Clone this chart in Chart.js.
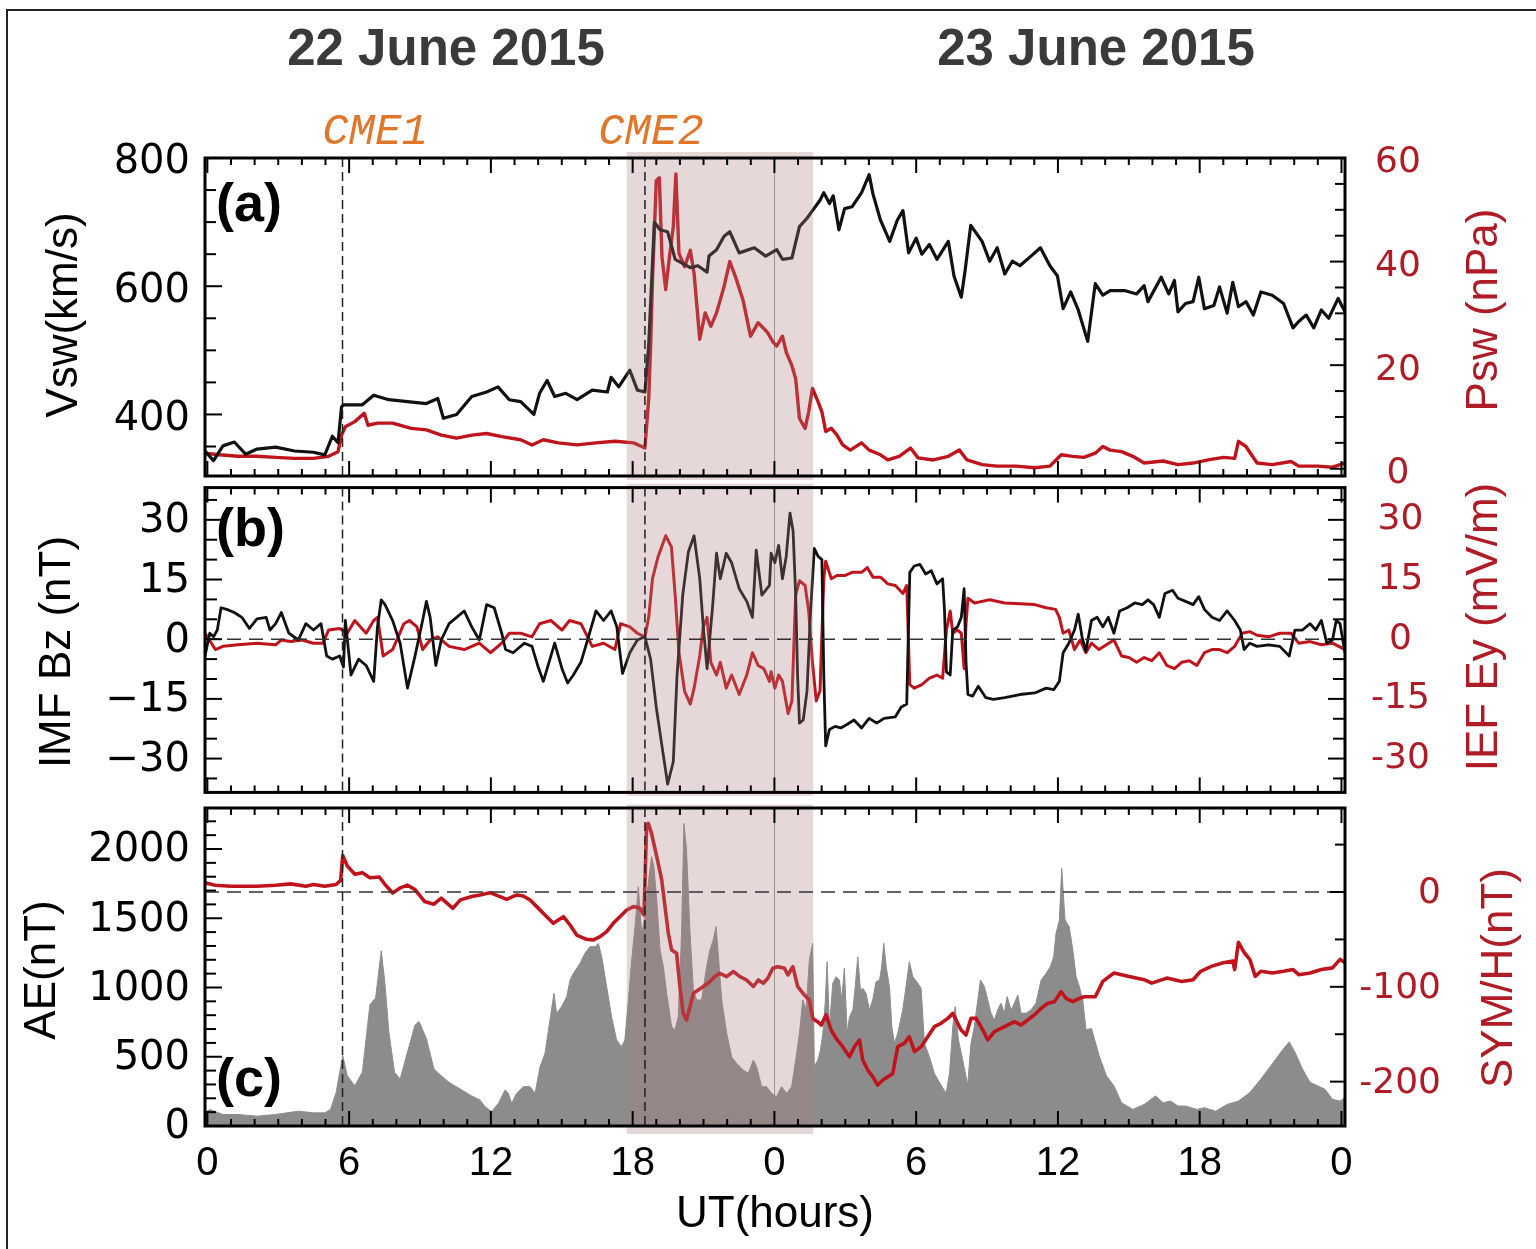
<!DOCTYPE html>
<html>
<head>
<meta charset="utf-8">
<script src="https://cdn.jsdelivr.net/npm/chart.js@4.4.1/dist/chart.umd.min.js"></script>
<style>
html, body { margin: 0; padding: 0; background: #fff; }
#wrap { position: relative; width: 1536px; height: 1249px; overflow: hidden; background: #fff; }
#wrap canvas { position: absolute; left: 0; }
#border { position: absolute; left: 6px; top: 9px; width: 1600px; height: 1300px; border-left: 2px solid #222; border-top: 2px solid #222; }
</style>
</head>
<body>
<div id="wrap">
  <div id="border"></div>
  <canvas id="pa" width="1536" height="530" style="top:0px"></canvas>
  <canvas id="pb" width="1536" height="400" style="top:440px"></canvas>
  <canvas id="pc" width="1536" height="484" style="top:765px"></canvas>
</div>
<script>
// hours since 22 June 00 UT, value
const vsw = [[-0.1,343],[0.26,328],[0.66,351],[1.14,357],[1.62,338],[2.1,346],[2.89,349],[3.69,343],[4.49,341],[4.97,337],[5.29,366],[5.53,356],[5.68,412],[5.76,415],[6.56,415],[7.04,430],[7.68,423],[8.47,420],[9.27,417],[9.75,425],[9.99,394],[10.55,400],[11.19,428],[11.82,435],[12.3,443],[12.78,423],[13.26,420],[13.82,400],[14.06,433],[14.38,453],[14.7,428],[15.17,433],[15.65,423],[16.29,438],[16.93,435],[17.09,458],[17.41,443],[17.88,469],[18.2,438],[18.52,435],[18.68,509],[18.84,637],[18.92,700],[19.16,688],[19.48,685],[19.8,642],[20.44,629],[20.76,632],[21.15,622],[21.23,647],[21.55,657],[21.87,678],[22.11,685],[22.51,652],[23.15,660],[23.63,647],[24.1,657],[24.34,642],[24.74,644],[25.06,693],[25.38,706],[25.61,718],[25.93,734],[26.09,746],[26.33,729],[26.49,741],[26.73,688],[26.97,721],[27.29,724],[27.69,746],[28.01,774],[28.17,744],[28.49,703],[28.88,670],[29.2,703],[29.44,718],[29.68,652],[30.0,675],[30.24,650],[30.56,665],[30.88,642],[31.36,670],[31.6,616],[31.91,583],[32.07,624],[32.31,695],[32.79,670],[33.11,639],[33.43,660],[33.75,619],[34.07,639],[34.39,632],[34.86,647],[35.26,660],[35.66,632],[35.98,616],[36.22,565],[36.54,591],[36.86,563],[37.26,514],[37.58,604],[37.9,586],[38.21,593],[38.85,593],[39.33,588],[39.65,601],[39.81,576],[40.37,614],[40.69,588],[40.93,609],[41.08,560],[41.4,573],[41.72,576],[41.96,614],[42.2,565],[42.6,570],[42.84,599],[43.16,558],[43.4,606],[43.64,568],[43.96,576],[44.27,555],[44.59,591],[45.07,586],[45.55,573],[45.95,535],[46.19,545],[46.51,555],[46.83,535],[47.15,563],[47.46,550],[47.86,581],[48.15,560]];
const psw = [[-0.1,3.0],[0.5,2.7],[1.3,2.4],[2.1,2.4],[2.89,2.2],[3.69,2.0],[4.49,2.0],[5.13,2.4],[5.53,3.3],[5.68,6.5],[5.84,8.1],[6.24,9.1],[6.64,10.7],[6.8,8.4],[7.2,8.8],[7.84,8.8],[8.63,7.8],[9.27,7.5],[9.9,6.5],[10.55,5.9],[11.19,6.5],[11.82,6.8],[12.46,6.2],[13.26,5.6],[13.74,4.6],[14.22,5.6],[14.85,5.0],[15.65,4.6],[16.45,5.0],[17.25,5.3],[18.04,5.0],[18.52,4.0],[18.68,13.5],[18.76,23.7],[18.84,36.5],[19.0,55.6],[19.13,56.2],[19.24,41],[19.4,34.6],[19.56,41],[19.72,46.7],[19.83,56.9],[19.96,41.6],[20.2,39],[20.44,42.2],[20.6,37.7],[20.84,25],[21.07,30.1],[21.31,27.5],[21.55,30.1],[21.87,35.2],[22.11,40],[22.35,37.1],[22.67,32.6],[22.99,25.6],[23.31,28.2],[23.71,26.3],[23.95,24.4],[24.1,23.7],[24.34,25.6],[24.5,22.5],[24.74,19.9],[24.9,17.4],[25.06,9.7],[25.3,7.8],[25.45,11],[25.61,15.5],[25.85,12.9],[26.01,11],[26.17,7.2],[26.41,7.8],[26.65,6.5],[26.89,4.6],[27.21,3.6],[27.69,5.0],[28.01,3.6],[28.49,2.7],[28.8,1.7],[29.28,2.4],[29.76,4.0],[30.08,2.1],[30.72,1.7],[31.36,2.4],[31.83,3.6],[32.15,1.7],[32.79,0.8],[33.43,0.5],[34.23,0.5],[35.02,0.2],[35.66,0.5],[36.14,2.7],[36.62,2.4],[37.1,2.2],[37.58,3.0],[37.9,4.3],[38.21,3.6],[38.69,3.3],[39.17,2.4],[39.65,1.1],[40.45,1.5],[41.08,0.8],[41.72,1.1],[42.36,1.7],[43.0,2.2],[43.48,2.0],[43.64,5.3],[43.96,4.3],[44.19,2.7],[44.43,1.1],[45.07,0.8],[45.87,1.4],[46.19,0.5],[46.99,0.5],[47.62,0.3],[48.15,1.1]];
const bz = [[-0.1,-4.2],[0.1,1.5],[0.26,0.6],[0.42,2.3],[0.58,7.9],[0.82,7.5],[1.14,6.7],[1.46,5.5],[1.78,2.7],[2.1,5.1],[2.49,5.5],[2.65,2.3],[2.89,3.9],[3.13,6.7],[3.45,1.5],[3.85,-0.2],[4.17,3.9],[4.49,2.3],[4.81,3.9],[5.05,-4.2],[5.29,-5.0],[5.6,-4.2],[5.76,-7.0],[5.84,4.7],[6.08,-9.0],[6.4,-5.0],[6.72,-6.6],[7.04,-10.6],[7.2,3.1],[7.36,9.9],[7.52,8.7],[7.84,4.7],[8.16,-1.0],[8.47,-12.3],[8.79,-4.2],[9.11,4.7],[9.27,9.5],[9.43,5.5],[9.67,-6.6],[9.9,-0.2],[10.23,3.9],[10.55,5.5],[10.87,7.1],[11.19,3.1],[11.51,-0.2],[11.82,8.7],[12.14,7.9],[12.46,1.5],[12.62,-2.6],[12.94,-3.4],[13.42,-1.0],[13.74,-1.8],[13.98,-6.6],[14.22,-10.6],[14.46,-5.8],[14.7,-1.0],[15.01,-7.4],[15.25,-11.0],[15.49,-9.0],[15.81,-5.8],[16.13,0.6],[16.45,7.1],[16.77,4.7],[17.09,7.1],[17.33,3.1],[17.57,-8.6],[17.88,-3.4],[18.2,-0.2],[18.52,0.6],[18.76,-5.0],[19.0,-17.1],[19.24,-26.8],[19.48,-36.4],[19.72,-30.8],[19.88,-9.0],[20.12,11.1],[20.36,22.0],[20.6,26.0],[20.84,15.2],[20.99,3.1],[21.15,-7.4],[21.39,8.7],[21.55,21.6],[21.71,15.2],[21.96,21.6],[22.19,19.2],[22.51,12.7],[22.83,9.5],[23.07,5.5],[23.23,22.4],[23.47,11.1],[23.79,13.5],[23.86,21.6],[24.02,19.2],[24.18,23.6],[24.34,15.2],[24.5,20.8],[24.66,31.7],[24.79,27.2],[24.9,11.1],[24.98,-9],[25.06,-21.1],[25.22,-20.3],[25.38,-13],[25.53,7.1],[25.69,22.8],[25.85,20.8],[26.01,20],[26.09,-9],[26.17,-26.8],[26.33,-22.7],[26.57,-21.9],[26.81,-22.3],[27.05,-21.5],[27.37,-20.3],[27.69,-22.3],[28.01,-19.9],[28.33,-21.1],[28.64,-19.9],[29.12,-19.5],[29.36,-17.1],[29.6,-16.3],[29.73,16.8],[29.92,18.4],[30.16,18.8],[30.4,16.4],[30.64,17.2],[30.88,13.9],[31.12,15.2],[31.2,7.1],[31.28,-8.2],[31.44,-9],[31.55,2.3],[31.75,3.1],[31.91,5.5],[32.03,12.7],[32.11,-5.8],[32.19,-13.9],[32.39,-14.3],[32.63,-11.8],[32.95,-14.7],[33.27,-15.1],[33.75,-14.7],[34.39,-13.9],[35.02,-13.5],[35.5,-12.3],[35.82,-12.7],[36.06,-10.6],[36.22,-3.4],[36.46,-1.0],[36.7,2.3],[36.86,6.3],[37.02,0.6],[37.18,-3.0],[37.42,4.7],[37.66,5.5],[37.9,3.1],[38.13,5.5],[38.37,1.5],[38.61,7.1],[38.93,7.9],[39.25,9.1],[39.57,8.7],[39.81,9.9],[40.05,8.7],[40.29,5.5],[40.53,11.5],[40.85,12.3],[41.08,10.3],[41.4,9.5],[41.72,8.7],[41.96,10.7],[42.2,7.5],[42.52,5.5],[42.84,4.7],[43.16,7.1],[43.48,4.7],[43.72,2.3],[43.88,-2.6],[44.12,-1.0],[44.43,-1.8],[44.91,-1.4],[45.39,-1.8],[45.79,-4.2],[46.03,2.3],[46.35,2.3],[46.67,3.9],[46.91,2.3],[47.15,4.7],[47.38,-1.0],[47.62,-0.2],[47.78,4.7],[47.94,3.9],[48.15,-3.4]];
const ey = [[-0.1,1.5],[0.34,-2.6],[0.66,-1.8],[1.3,-1.4],[2.1,-1.0],[2.89,-1.4],[3.13,-0.2],[3.53,-0.6],[4.01,-0.2],[4.49,-1.0],[4.89,-1.0],[5.13,2.3],[5.6,2.7],[5.92,1.5],[6.24,4.7],[6.72,1.5],[7.04,4.7],[7.2,5.5],[7.44,-4.2],[7.84,-2.6],[8.32,3.9],[8.55,4.7],[8.87,3.1],[9.11,-2.6],[9.43,-0.2],[9.75,0.6],[10.23,-1.8],[10.87,-2.6],[11.51,-1.0],[11.98,-3.4],[12.46,-1.0],[12.78,1.5],[13.26,1.5],[13.74,0.6],[14.06,3.9],[14.54,4.7],[15.01,2.3],[15.33,4.7],[15.81,3.9],[16.29,-1.8],[16.77,-1.0],[17.25,-2.6],[17.49,3.9],[17.88,3.1],[18.2,1.5],[18.52,0.6],[18.68,5.5],[18.84,15.2],[19.08,20.8],[19.4,26.0],[19.64,23.2],[19.8,11.1],[19.96,-3.4],[20.2,-13.1],[20.44,-16.3],[20.6,-12.3],[20.84,-4.2],[20.99,3.1],[21.15,5.5],[21.31,-5.8],[21.55,-9],[21.71,-5.8],[21.96,-12.3],[22.19,-9],[22.51,-13.9],[22.83,-9],[23.07,-3.4],[23.31,-6.6],[23.55,-7.4],[23.79,-10.6],[23.86,-8.2],[24.02,-12.3],[24.18,-9],[24.34,-10.6],[24.58,-18.7],[24.74,-15.5],[24.9,11.1],[25.06,14.7],[25.3,13.5],[25.45,7.1],[25.61,-5.8],[25.77,-15.5],[25.93,-13],[26.09,15.2],[26.17,19.6],[26.41,15.2],[26.65,16],[26.97,16],[27.29,16.8],[27.69,16.8],[27.93,18],[28.17,15.6],[28.49,15.6],[28.8,13.9],[29.12,13.5],[29.44,11.5],[29.6,13.5],[29.73,-11.4],[29.92,-12.3],[30.24,-11.4],[30.56,-9.8],[30.88,-9],[31.12,-9.8],[31.28,2.3],[31.44,7.1],[31.55,1.5],[31.75,2.3],[31.91,1.5],[32.03,-7.4],[32.11,3.9],[32.19,10.3],[32.47,9.1],[32.79,9.5],[33.11,9.9],[33.75,9.1],[34.39,8.9],[35.02,8.7],[35.5,7.9],[35.9,7.5],[36.06,5.5],[36.22,1.5],[36.46,2.3],[36.7,-2.6],[36.94,-0.2],[37.18,-3.4],[37.42,-1.0],[37.74,-2.6],[38.05,-1.4],[38.37,-0.2],[38.69,-4.2],[39.01,-4.6],[39.33,-5.8],[39.65,-4.6],[39.97,-5.4],[40.29,-3.4],[40.61,-6.6],[40.93,-7.4],[41.24,-5.8],[41.56,-5.4],[41.88,-6.6],[42.2,-3.4],[42.52,-2.6],[42.84,-2.6],[43.16,-3.4],[43.48,-1.8],[43.8,1.5],[44.12,1.9],[44.43,1.0],[44.91,0.6],[45.39,1.5],[45.87,1.5],[46.19,-1.0],[46.67,-0.6],[47.15,-1.4],[47.62,-1.0],[48.15,-2.6]];
const ae = [[-0.1,95],[0.1,120],[0.66,83],[1.3,83],[2.1,71],[2.89,83],[3.37,95],[3.85,107],[4.49,95],[4.97,95],[5.21,120],[5.45,241],[5.73,510],[5.92,363],[6.24,290],[6.56,388],[6.88,876],[7.12,924],[7.36,1266],[7.52,1022],[7.68,680],[7.92,388],[8.16,339],[8.47,534],[8.79,729],[8.96,754],[9.27,632],[9.59,412],[9.9,363],[10.23,315],[10.71,266],[11.19,217],[11.54,188],[11.75,140],[12.03,104],[12.32,164],[12.6,260],[12.74,236],[12.88,164],[13.09,236],[13.37,284],[13.66,284],[13.87,236],[14.08,428],[14.29,524],[14.5,765],[14.67,958],[14.78,813],[14.99,861],[15.21,934],[15.35,1054],[15.49,1102],[15.77,1174],[15.98,1247],[16.19,1295],[16.41,1295],[16.55,1319],[16.69,1223],[16.9,1006],[17.11,789],[17.32,621],[17.53,573],[17.67,621],[17.82,910],[17.96,1199],[18.1,1439],[18.24,1728],[18.38,1391],[18.52,1511],[18.66,1752],[18.8,1945],[18.9,1872],[19.02,1632],[19.16,1271],[19.3,1150],[19.44,958],[19.65,717],[19.79,693],[19.93,789],[20.07,1391],[20.17,2185],[20.28,1993],[20.43,1391],[20.57,982],[20.71,910],[20.92,910],[21.13,1150],[21.27,1271],[21.41,1343],[21.53,1439],[21.62,1247],[21.77,910],[21.98,669],[22.19,500],[22.4,452],[22.68,404],[22.89,380],[23.11,476],[23.25,428],[23.46,284],[23.67,284],[23.88,236],[24.09,212],[24.3,284],[24.52,236],[24.73,284],[24.92,500],[25.06,670],[25.2,910],[25.34,840],[25.48,1200],[25.62,1319],[25.69,430],[25.84,477],[25.95,549],[26.05,670],[26.15,887],[26.23,1186],[26.33,717],[26.47,1030],[26.61,1078],[26.75,1054],[26.85,910],[26.96,1138],[27.08,670],[27.18,790],[27.32,838],[27.42,1006],[27.53,1222],[27.64,982],[27.74,994],[27.88,958],[28.02,838],[28.16,910],[28.3,1042],[28.45,1054],[28.54,1150],[28.63,1319],[28.73,1150],[28.87,1006],[28.97,717],[29.08,597],[29.22,670],[29.43,838],[29.57,1006],[29.71,1186],[29.86,1078],[30.07,1030],[30.21,994],[30.35,597],[30.56,500],[30.77,380],[31.05,296],[31.27,236],[31.41,380],[31.55,717],[31.65,862],[31.79,621],[31.97,477],[32.18,296],[32.32,597],[32.46,717],[32.61,910],[32.72,1054],[32.89,1006],[33.03,910],[33.17,814],[33.31,766],[33.45,838],[33.59,887],[33.73,814],[33.85,934],[34.02,838],[34.16,887],[34.3,946],[34.44,814],[34.65,814],[34.86,838],[35.07,887],[35.29,1054],[35.5,1102],[35.68,1150],[35.82,1222],[35.92,1391],[36.06,1487],[36.16,1860],[36.3,1487],[36.48,1439],[36.63,1270],[36.77,1078],[36.91,1006],[37.05,910],[37.19,694],[37.42,705],[37.74,510],[38.05,363],[38.37,290],[38.69,168],[39.17,120],[39.65,156],[40.13,217],[40.45,168],[40.77,180],[41.08,144],[41.4,144],[41.88,120],[42.2,132],[42.68,107],[43.16,156],[43.64,180],[44.12,241],[44.59,339],[44.91,412],[45.23,485],[45.55,559],[45.79,607],[46.03,534],[46.35,412],[46.67,315],[46.99,290],[47.3,266],[47.62,193],[47.94,180],[48.15,205]];
const symh = [[-0.1,9.7],[0.34,7.2],[0.98,6.1],[2.1,6.1],[2.89,7.2],[3.53,8.6],[4.17,6.1],[4.49,7.9],[4.97,6.1],[5.45,7.9],[5.64,12.2],[5.73,38.4],[5.92,27.6],[6.24,18.7],[6.56,20.4],[6.88,15.1],[7.28,15.8],[7.52,7.9],[7.84,-1.1],[8.16,4.3],[8.47,7.2],[8.79,2.5],[9.19,-10],[9.59,-12.9],[9.9,-6.5],[10.39,-17.2],[10.71,-8.3],[11.19,-4.7],[11.54,-3.1],[11.96,-0.7],[12.39,-4.9],[12.67,-7.7],[13.09,-3.1],[13.37,-4.2],[13.66,-8.4],[13.94,-15.4],[14.29,-24.2],[14.64,-33],[15.07,-26],[15.35,-34.8],[15.63,-45.4],[16.05,-49.9],[16.34,-50.6],[16.62,-47.1],[16.9,-41.8],[17.18,-33],[17.46,-26],[17.75,-19],[18.03,-15.4],[18.31,-17.2],[18.48,-24.2],[18.54,26.7],[18.59,70.7],[18.66,72.4],[18.8,61.9],[19.02,37.3],[19.23,12.7],[19.37,-15.4],[19.51,-43.5],[19.65,-61.1],[19.86,-64.6],[20.0,-99.7],[20.14,-127.9],[20.28,-135],[20.43,-120.9],[20.57,-106.8],[20.78,-103.3],[20.99,-99.7],[21.27,-94.5],[21.48,-89.2],[21.69,-85.7],[21.98,-89.2],[22.26,-83.9],[22.54,-89.2],[22.82,-92.8],[23.11,-99.7],[23.32,-92.8],[23.53,-96.3],[23.72,-91],[23.93,-80.5],[24.14,-78.8],[24.43,-80.5],[24.57,-87.5],[24.78,-78.8],[24.99,-99.9],[25.27,-108.7],[25.48,-114],[25.62,-133.3],[25.84,-137],[25.98,-140.3],[26.19,-129.7],[26.4,-145.6],[26.61,-154.3],[26.89,-163.1],[27.18,-173.7],[27.39,-163.1],[27.6,-156.1],[27.74,-177.2],[27.95,-187.8],[28.16,-194.8],[28.37,-203.6],[28.59,-198.3],[28.8,-194.8],[29.01,-191.3],[29.22,-163.1],[29.5,-159.6],[29.71,-152.6],[29.93,-168.4],[30.21,-163.1],[30.49,-152.6],[30.77,-142],[31.05,-138.5],[31.34,-133.3],[31.55,-128],[31.69,-135],[31.9,-145.6],[32.11,-150.8],[32.32,-133.3],[32.54,-133.3],[32.82,-145.6],[33.03,-156.1],[33.31,-147.3],[33.59,-143.8],[33.87,-140.3],[34.16,-136.8],[34.44,-140.3],[34.72,-135],[35.0,-129.7],[35.29,-122.7],[35.57,-117.4],[35.85,-115.7],[36.13,-105.1],[36.34,-112.1],[36.63,-115.7],[36.91,-112.1],[37.12,-110.4],[37.58,-110.5],[37.9,-94.3],[38.37,-85.4],[39.01,-89],[39.65,-92.5],[39.97,-96.1],[40.61,-90.8],[41.24,-94.3],[41.72,-92.5],[42.04,-83.6],[42.52,-78.2],[43.0,-74.6],[43.4,-72.8],[43.48,-81.8],[43.64,-53.1],[43.88,-63.8],[44.12,-71],[44.35,-89],[44.59,-83.6],[45.07,-85.4],[45.55,-83.6],[45.95,-81.8],[46.19,-87.2],[46.67,-85.4],[47.15,-81.8],[47.62,-80],[47.94,-71],[48.15,-74.6]];

// ticks and labels
const xTicks = [0, 6, 12, 18, 24, 30, 36, 42, 48];
const xTickLabels = ['0', '6', '12', '18', '0', '6', '12', '18', '0'];
const vswTicks = [400, 600, 800];
const pswTicks = [0, 20, 40, 60];
const bzTicks = [-30, -15, 0, 15, 30];
const eyTicks = [-30, -15, 0, 15, 30];
const aeTicks = [0, 500, 1000, 1500, 2000];
const symTicks = [-200, -100, 0];

// events
const cmeHours = [5.72, 18.52];
const cmeNames = ['CME1', 'CME2'];
const shadeStart = 17.75;
const shadeEnd = 25.64;
const midnight = 24;

const RED = '#c0141c';
const RED_TXT = '#b01c26';
const SANS = '"Liberation Sans", Arial, sans-serif';

const toXY = arr => arr.map(p => ({x: p[0], y: p[1]}));

function line(ctx, x0, y0, x1, y1) {
  ctx.beginPath(); ctx.moveTo(x0, y0); ctx.lineTo(x1, y1); ctx.stroke();
}

// frame, inward ticks, shading, marker lines, texts
const decor = {
  id: 'decor',
  beforeDatasetsDraw(chart) {
    const {ctx, chartArea: a, scales: {x}} = chart;
    ctx.save();
    ctx.strokeStyle = '#9a9a9a';
    ctx.lineWidth = 1;
    const px = Math.round(x.getPixelForValue(midnight)) + 0.5;
    line(ctx, px, a.top, px, a.bottom);
    ctx.restore();
  },
  afterDatasetsDraw(chart, args, o) {
    const {ctx, chartArea: a, scales} = chart;
    const x = scales.x;
    ctx.save();
    const x0 = x.getPixelForValue(shadeStart), x1 = x.getPixelForValue(shadeEnd);
    ctx.fillStyle = 'rgba(172,126,126,0.3)';
    ctx.fillRect(x0, a.top - o.bandUp, x1 - x0, a.bottom - a.top + o.bandUp + o.bandDown);

    if (o.zeroAxis) {
      const py = scales[o.zeroAxis].getPixelForValue(0);
      ctx.setLineDash([14, 8]);
      ctx.strokeStyle = '#333';
      ctx.lineWidth = 1.6;
      line(ctx, a.left, py, a.right, py);
    }
    ctx.setLineDash([9, 5]);
    ctx.strokeStyle = '#222';
    ctx.lineWidth = 1.5;
    cmeHours.forEach(h => {
      const px = x.getPixelForValue(h);
      line(ctx, px, a.top, px, a.bottom);
    });
    ctx.restore();
  },
  afterDraw(chart, args, o) {
    const {ctx, chartArea: a, scales} = chart;
    ctx.save();
    ctx.strokeStyle = '#000';
    ctx.lineCap = 'butt';
    // ticks
    o.tickSets.forEach(t => {
      const s = scales[t.axis];
      ctx.lineWidth = 2;
      const first = Math.ceil(s.min / t.minor) * t.minor;
      for (let v = first; v <= s.max + 1e-9; v += t.minor) {
        const major = Math.abs(v / t.major - Math.round(v / t.major)) < 1e-6;
        const len = major ? t.majorLen : t.minorLen;
        const p = s.getPixelForValue(v);
        if (t.axis === 'x') {
          if (p < a.left + 2 || p > a.right - 2) continue;
          line(ctx, p, a.top, p, a.top + len);
          line(ctx, p, a.bottom, p, a.bottom - len);
        } else {
          if (p < a.top + 2 || p > a.bottom - 2) continue;
          if (t.side === 'left') line(ctx, a.left, p, a.left + len, p);
          else line(ctx, a.right, p, a.right - len, p);
        }
      }
    });
    // frame
    ctx.lineWidth = 3;
    ctx.strokeRect(a.left, a.top, a.right - a.left, a.bottom - a.top);
    // texts
    o.texts.forEach(t => {
      ctx.save();
      ctx.font = t.font;
      ctx.fillStyle = t.color || '#000';
      ctx.textAlign = t.align || 'center';
      ctx.textBaseline = 'middle';
      ctx.translate(t.x, t.y - o.offsetY);
      if (t.rot) ctx.rotate(t.rot);
      ctx.fillText(t.text, 0, 0);
      ctx.restore();
    });
    ctx.restore();
  }
};
Chart.register(decor);

const fmtMinus = v => (v < 0 ? '\u2212' + (-v) : String(v));
const fmtHyphen = v => String(v);

function yAxis(pos, min, max, tickArr, o) {
  return {
    type: 'linear', position: pos, min: min, max: max,
    grid: {display: false, drawTicks: false},
    border: {display: false},
    afterBuildTicks: s => { s.ticks = tickArr.map(v => ({value: v})); },
    afterFit: s => { s.width = o.width || (pos === 'left' ? 205 : 191); },
    ticks: {
      autoSkip: false, padding: o.padding, labelOffset: o.offset || 0,
      crossAlign: o.cross || 'near', color: o.color || '#000',
      font: {family: '"DejaVu Sans", sans-serif', size: o.size},
      callback: o.fmt || fmtHyphen
    }
  };
}

function hiddenX() {
  return {type: 'linear', min: -0.1, max: 48.15, display: false};
}

function baseOptions(padding, scales, decorOpts) {
  return {
    responsive: false, animation: false, devicePixelRatio: 1,
    layout: {padding: padding},
    elements: {point: {radius: 0}, line: {tension: 0, borderJoinStyle: 'round'}},
    plugins: {legend: {display: false}, tooltip: {enabled: false}, decor: decorOpts},
    scales: scales
  };
}

const xTickSet = {axis: 'x', minor: 1, major: 6, minorLen: 7, majorLen: 15};

// panel (a)
new Chart(document.getElementById('pa'), {
  type: 'line',
  data: {datasets: [
    {data: toXY(vsw), yAxisID: 'yL', borderColor: '#111', borderWidth: 3.2},
    {data: toXY(psw), yAxisID: 'yR', borderColor: RED, borderWidth: 3.4}
  ]},
  options: baseOptions({top: 158, bottom: 54, left: 0, right: 0}, {
    x: hiddenX(),
    yL: yAxis('left', 304, 800, vswTicks, {padding: 15, offset: 5, size: 40}),
    yR: yAxis('right', -1.4, 60, pswTicks, {padding: 30, offset: 5, size: 36, cross: 'center', color: RED_TXT})
  }, {
    offsetY: 0, bandUp: 6, bandDown: 4, zeroAxis: null,
    tickSets: [xTickSet,
      {axis: 'yL', side: 'left', minor: 50, major: 200, minorLen: 11, majorLen: 17},
      {axis: 'yR', side: 'right', minor: 5, major: 20, minorLen: 10, majorLen: 15}],
    texts: [
      {text: '22 June 2015', x: 446, y: 51, font: 'bold 51px ' + SANS, color: '#3a3a3a'},
      {text: '23 June 2015', x: 1096, y: 51, font: 'bold 51px ' + SANS, color: '#3a3a3a'},
      {text: cmeNames[0], x: 375, y: 132, font: 'italic 44px "Liberation Mono", monospace', color: '#e0762a'},
      {text: cmeNames[1], x: 651, y: 132, font: 'italic 44px "Liberation Mono", monospace', color: '#e0762a'},
      {text: '(a)', x: 216, y: 206, font: 'bold 54px ' + SANS, align: 'left'},
      {text: 'Vsw(km/s)', x: 65, y: 315, font: '44px ' + SANS, rot: -Math.PI / 2},
      {text: 'Psw (nPa)', x: 1485, y: 310, font: '44px ' + SANS, color: RED_TXT, rot: -Math.PI / 2}
    ]
  })
});

// panel (b)
new Chart(document.getElementById('pb'), {
  type: 'line',
  data: {datasets: [
    {data: toXY(bz), yAxisID: 'yL', borderColor: '#111', borderWidth: 2.8},
    {data: toXY(ey), yAxisID: 'yR', borderColor: RED, borderWidth: 3}
  ]},
  options: baseOptions({top: 44, bottom: 39, left: 0, right: 0}, {
    x: hiddenX(),
    yL: yAxis('left', -38.5, 38.1, bzTicks, {padding: 15, offset: 2, size: 40, fmt: fmtMinus}),
    yR: yAxis('right', -38.5, 38.1, eyTicks, {padding: 26, offset: 0, size: 36, cross: 'center', color: RED_TXT})
  }, {
    offsetY: 440, bandUp: 4, bandDown: 3.5, zeroAxis: 'yL',
    tickSets: [xTickSet,
      {axis: 'yL', side: 'left', minor: 5, major: 15, minorLen: 12, majorLen: 17},
      {axis: 'yR', side: 'right', minor: 5, major: 15, minorLen: 12, majorLen: 17}],
    texts: [
      {text: '(b)', x: 216, y: 531, font: 'bold 54px ' + SANS, align: 'left'},
      {text: 'IMF Bz (nT)', x: 58, y: 652, font: '44px ' + SANS, rot: -Math.PI / 2},
      {text: 'IEF Ey (mV/m)', x: 1485, y: 627, font: '44px ' + SANS, color: RED_TXT, rot: -Math.PI / 2}
    ]
  })
});

// panel (c)
new Chart(document.getElementById('pc'), {
  type: 'line',
  data: {datasets: [
    {data: toXY(symh), yAxisID: 'yR', borderColor: RED, borderWidth: 3.6},
    {data: toXY(ae), yAxisID: 'yL', borderColor: '#8c8c8c', borderWidth: 1, backgroundColor: '#8c8c8c', fill: 'origin'}
  ]},
  options: baseOptions({top: 43, bottom: 0, left: 0, right: 95}, {
    x: {
      type: 'linear', min: -0.1, max: 48.15, position: 'bottom',
      grid: {display: false, drawTicks: false}, border: {display: false},
      afterBuildTicks: s => { s.ticks = xTicks.map(v => ({value: v})); },
      afterFit: s => { s.height = 123; },
      ticks: {autoSkip: false, maxRotation: 0, padding: 14, color: '#000',
        font: {family: SANS, size: 40},
        callback: (v, i) => xTickLabels[i]},
      title: {display: true, text: 'UT(hours)', color: '#000',
        font: {family: SANS, size: 44}, padding: {top: 0, bottom: 8}}
    },
    yL: yAxis('left', 0, 2296, aeTicks, {padding: 15, offset: 2, size: 40}),
    yR: yAxis('right', -246.8, 88.6, symTicks, {padding: 14, offset: 2, size: 36, cross: 'far', color: RED_TXT, width: 96})
  }, {
    offsetY: 765, bandUp: 3.5, bandDown: 8, zeroAxis: 'yR',
    tickSets: [xTickSet,
      {axis: 'yL', side: 'left', minor: 100, major: 500, minorLen: 11, majorLen: 17},
      {axis: 'yR', side: 'right', minor: 50, major: 100, minorLen: 10, majorLen: 15}],
    texts: [
      {text: '(c)', x: 216, y: 1081, font: 'bold 54px ' + SANS, align: 'left'},
      {text: 'AE(nT)', x: 43, y: 970, font: '44px ' + SANS, rot: -Math.PI / 2},
      {text: 'SYM/H(nT)', x: 1500, y: 978, font: '44px ' + SANS, color: RED_TXT, rot: -Math.PI / 2}
    ]
  })
});
</script>
</body>
</html>
